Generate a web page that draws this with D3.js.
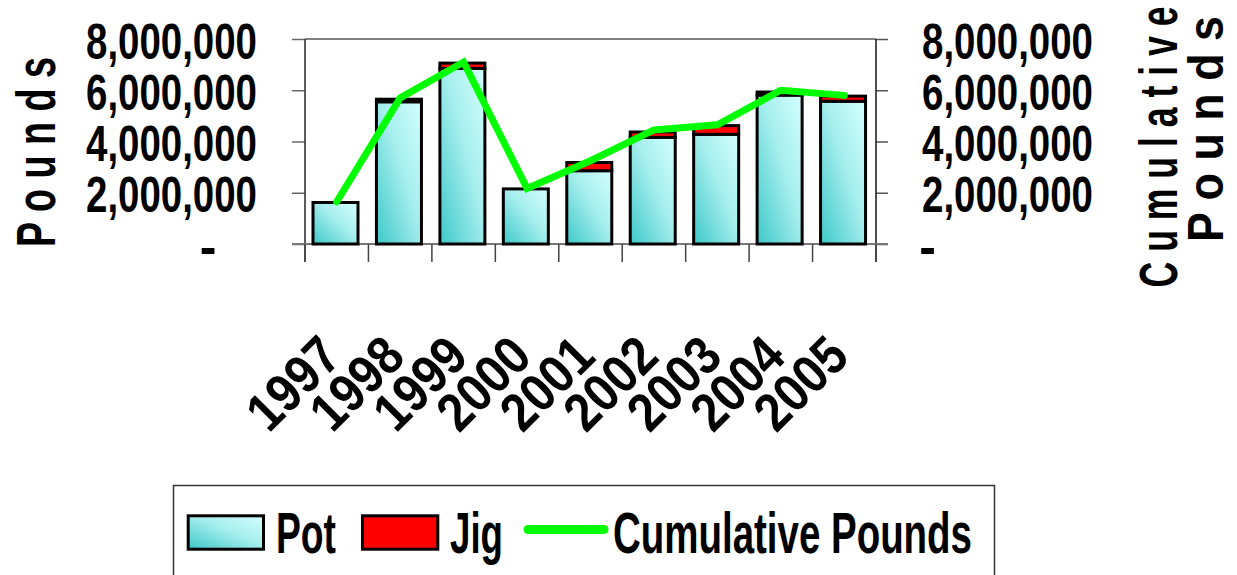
<!DOCTYPE html>
<html>
<head>
<meta charset="utf-8">
<script src="https://cdn.jsdelivr.net/npm/d3@7"></script>
<style>
  html, body { margin: 0; padding: 0; background: #ffffff; }
  svg { display: block; }
</style>
</head>
<body>
<script>
// ---------------- data ----------------
const years = ["1997", "1998", "1999", "2000", "2001", "2002", "2003", "2004", "2005"];
const potValues = [1620000, 5550000, 6850000, 2150000, 2860000, 4160000, 4280000, 5810000, 5570000];
const jigValues = [0, 100000, 210000, 0, 320000, 210000, 340000, 120000, 200000];
const cumulativeValues = [1650000, 5700000, 7100000, 2170000, 3250000, 4450000, 4650000, 6000000, 5800000];
const yTickValues = [0, 2000000, 4000000, 6000000, 8000000];
const seriesNames = ["Pot", "Jig", "Cumulative Pounds"];
const leftTitle = "P o u n d s";
const rightTitleLines = ["C u m u l a t i v e", "P o u n d s"];

// ---------------- setup ----------------
const W = 1237, H = 575;
const FONT = "'Liberation Sans', Arial, Helvetica, sans-serif";
const plot = { left: 305, right: 876, top: 39, bottom: 244 };

const svg = d3.select("body").append("svg")
  .attr("width", W).attr("height", H)
  .attr("font-family", FONT);

svg.append("rect").attr("width", W).attr("height", H).attr("fill", "#ffffff");

const defs = svg.append("defs");
const grad = defs.append("linearGradient").attr("id", "potGrad")
  .attr("x1", 0).attr("y1", 1).attr("x2", 1).attr("y2", 0);
grad.append("stop").attr("offset", "0%").attr("stop-color", "#3ec8c8");
grad.append("stop").attr("offset", "55%").attr("stop-color", "#a6eeee");
grad.append("stop").attr("offset", "100%").attr("stop-color", "#d4ffff");

const x = d3.scaleBand().domain(years).range([plot.left, plot.right]).padding(0);
const y = d3.scaleLinear().domain([0, 8000000]).range([plot.bottom, plot.top]);
const fmt = d => d === 0 ? "-" : d3.format(",")(d);

// ---------------- frame ----------------
svg.append("line")
  .attr("x1", plot.left).attr("x2", plot.right)
  .attr("y1", plot.top).attr("y2", plot.top)
  .attr("stroke", "#808080").attr("stroke-width", 2.2);

// left axis
const gL = svg.append("g").attr("transform", `translate(${plot.left},0)`)
  .call(d3.axisLeft(y).tickValues(yTickValues).tickSizeInner(13).tickSizeOuter(0)
    .tickPadding(35).tickFormat(fmt));
gL.select(".domain").remove();
gL.selectAll(".tick line").attr("stroke", "#666").attr("stroke-width", 1.5);
gL.selectAll(".tick text")
  .attr("fill", "#000").attr("font-size", 50).attr("font-weight", "bold")
  .attr("font-family", FONT).attr("dy", "0.38em")
  .each(function (d) {
    const t = d3.select(this);
    if (d === 0) { t.attr("text-anchor", "middle").attr("x", -97); }
    else { t.attr("textLength", 171).attr("lengthAdjust", "spacingAndGlyphs"); }
  });

// right axis
const gR = svg.append("g").attr("transform", `translate(${plot.right},0)`)
  .call(d3.axisRight(y).tickValues(yTickValues).tickSizeInner(12).tickSizeOuter(0)
    .tickPadding(34).tickFormat(fmt));
gR.select(".domain").remove();
gR.selectAll(".tick line").attr("stroke", "#555").attr("stroke-width", 1.5);
gR.selectAll(".tick text")
  .attr("fill", "#000").attr("font-size", 50).attr("font-weight", "bold")
  .attr("font-family", FONT).attr("dy", "0.38em")
  .each(function (d) {
    const t = d3.select(this);
    if (d === 0) { t.attr("text-anchor", "middle").attr("x", 51.5); }
    else { t.attr("textLength", 171).attr("lengthAdjust", "spacingAndGlyphs"); }
  });

// vertical axis lines
svg.append("line").attr("x1", plot.left).attr("x2", plot.left)
  .attr("y1", plot.top).attr("y2", plot.bottom + 18)
  .attr("stroke", "#333").attr("stroke-width", 1.6);
svg.append("line").attr("x1", plot.right).attr("x2", plot.right)
  .attr("y1", plot.top).attr("y2", plot.bottom + 18)
  .attr("stroke", "#222").attr("stroke-width", 1.6);

// bottom axis
const gB = svg.append("g").attr("transform", `translate(0,${plot.bottom})`)
  .call(d3.axisBottom(x).tickSize(0).tickPadding(0));
gB.select(".domain").remove();
gB.selectAll(".tick text")
  .attr("fill", "#000").attr("font-size", 54).attr("font-weight", "bold")
  .attr("font-family", FONT)
  .attr("text-anchor", "end").attr("x", 0).attr("y", 0).attr("dy", 0)
  .attr("transform", "translate(7,115) rotate(-45)")
  .attr("textLength", 106).attr("lengthAdjust", "spacingAndGlyphs");
svg.append("line").attr("x1", plot.left - 13).attr("x2", plot.right + 12)
  .attr("y1", plot.bottom).attr("y2", plot.bottom)
  .attr("stroke", "#777").attr("stroke-width", 2);
const boundaries = years.map(d => x(d)).concat([x(years[years.length - 1]) + x.bandwidth()]);
svg.append("g").selectAll("line").data(boundaries).join("line")
  .attr("x1", d => d).attr("x2", d => d)
  .attr("y1", plot.bottom).attr("y2", plot.bottom + 18)
  .attr("stroke", "#444").attr("stroke-width", 1.5);

// ---------------- bars ----------------
const barInset = 8, barW = 45;
const rows = years.map((yr, i) => ({ yr, pot: potValues[i], jig: jigValues[i], cum: cumulativeValues[i] }));
const gBars = svg.append("g");
gBars.selectAll("rect.pot").data(rows).join("rect").attr("class", "pot")
  .attr("x", d => x(d.yr) + barInset).attr("width", barW)
  .attr("y", d => y(d.pot)).attr("height", d => y(0) - y(d.pot))
  .attr("fill", "url(#potGrad)").attr("stroke", "#000").attr("stroke-width", 3);
gBars.selectAll("rect.jig").data(rows.filter(d => d.jig > 0)).join("rect").attr("class", "jig")
  .attr("x", d => x(d.yr) + barInset).attr("width", barW)
  .attr("y", d => y(d.pot + d.jig)).attr("height", d => y(d.pot) - y(d.pot + d.jig))
  .attr("fill", "#ff0000").attr("stroke", "#000").attr("stroke-width", 3);

// ---------------- line ----------------
const line = d3.line().x(d => x(d.yr) + x.bandwidth() / 2).y(d => y(d.cum));
svg.append("path").datum(rows).attr("d", line)
  .attr("fill", "none").attr("stroke", "#00ff00").attr("stroke-width", 7)
  .attr("stroke-linecap", "round").attr("stroke-linejoin", "miter");

// ---------------- axis titles (rotated, horizontally condensed via scale) ----------------
function vTitle(str, cx, cy, size, targetLen) {
  const t = svg.append("text").text(str)
    .attr("text-anchor", "middle").attr("font-size", size).attr("font-weight", "bold");
  const natural = t.node().getComputedTextLength();
  const sx = targetLen / natural;
  t.attr("transform", `translate(${cx},${cy}) rotate(-90) scale(${sx},1)`);
}
vTitle(leftTitle, 55, 152, 55, 190);
vTitle(rightTitleLines[0], 1177, 147, 54, 281);
vTitle(rightTitleLines[1], 1223, 129, 50, 226);

// ---------------- legend ----------------
const lg = svg.append("g");
lg.append("rect").attr("x", 173.5).attr("y", 485.5).attr("width", 821).attr("height", 120)
  .attr("fill", "#fff").attr("stroke", "#333").attr("stroke-width", 1.5);
const legendItems = [
  { name: seriesNames[0], kind: "bar", fill: "url(#potGrad)", sx: 188.2, tx: 276, tl: 60 },
  { name: seriesNames[1], kind: "bar", fill: "#ff0000", sx: 362.5, tx: 450, tl: 53 },
  { name: seriesNames[2], kind: "line", fill: "#00ff00", sx: 528, tx: 613, tl: 359 }
];
legendItems.forEach(it => {
  if (it.kind === "bar") {
    lg.append("rect").attr("x", it.sx).attr("y", 515.8).attr("width", 75.3).attr("height", 33.4)
      .attr("fill", it.fill).attr("stroke", "#000").attr("stroke-width", 3);
  } else {
    lg.append("line").attr("x1", it.sx).attr("x2", it.sx + 76).attr("y1", 529.5).attr("y2", 529.5)
      .attr("stroke", it.fill).attr("stroke-width", 9).attr("stroke-linecap", "round");
  }
  lg.append("text").text(it.name).attr("x", it.tx).attr("y", 552.7)
    .attr("font-size", 57).attr("font-weight", "bold")
    .attr("textLength", it.tl).attr("lengthAdjust", "spacingAndGlyphs");
});
</script>
</body>
</html>
